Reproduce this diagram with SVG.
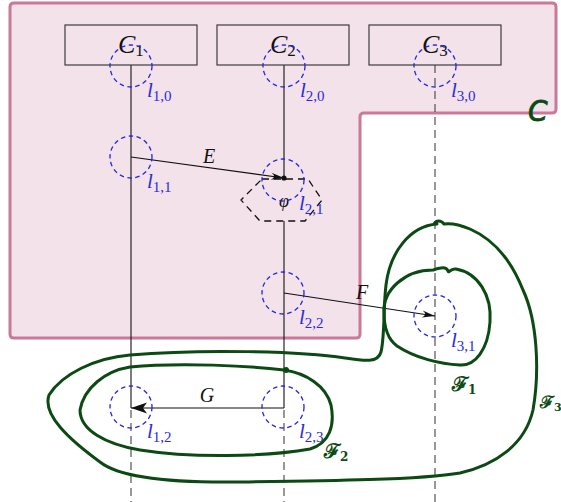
<svg xmlns="http://www.w3.org/2000/svg" width="561" height="502" viewBox="0 0 561 502">
<style>
.region{fill:#f3e2ea;stroke:#cc7898;stroke-width:3;stroke-linejoin:round}
.box{fill:none;stroke:#3c3c3c;stroke-width:1.2}
.solid{stroke:#111;stroke-width:1.1;fill:none}
.dash{stroke:#444;stroke-width:1.1;stroke-dasharray:8 5;fill:none}
.loc{fill:none;stroke:#2424e0;stroke-width:1.3;stroke-dasharray:4.5 3.5}
.math{font-family:"Liberation Serif","DejaVu Serif",serif;font-style:italic;fill:#111}
.sub{font-style:normal}
.blue{fill:#2a2ae0}
.hand{fill:none;stroke:#0b4a12;stroke-width:3;stroke-linecap:round;stroke-linejoin:round}
.htxt{font-family:"DejaVu Serif",serif;font-weight:bold;fill:#0b4a12}
</style>
<defs>
<marker id="thin" viewBox="-14 -5 16 10" markerWidth="16" markerHeight="10" refX="0" refY="0" orient="auto" markerUnits="userSpaceOnUse">
<path d="M0,0 L-13,-3.5 Q-7,0 -13,3.5 Z" fill="#111"/>
</marker>
<marker id="stealth" viewBox="-18 -7 20 14" markerWidth="20" markerHeight="14" refX="0" refY="0" orient="auto" markerUnits="userSpaceOnUse">
<path d="M0,0 L-16,-5.5 L-12,0 L-16,5.5 Z" fill="#111"/>
</marker>
</defs>

<g id="region">
<path class="region" d="M14,3 H552 Q556,3 556,7 V109 Q556,113 552,113 H364 Q360,113 360,117 V334 Q360,338 356,338 H14 Q10,338 10,334 V7 Q10,3 14,3 Z"/>
</g>

<g id="connectors">
<line class="solid" x1="131" y1="65" x2="131" y2="408"/>
<line class="dash" x1="131" y1="410" x2="131" y2="502"/>
<line class="solid" x1="284" y1="65" x2="284" y2="178"/>
<line class="solid" x1="284" y1="221" x2="284" y2="408"/>
<line class="dash" x1="284" y1="410" x2="284" y2="502"/>
<line class="dash" x1="435" y1="65" x2="435" y2="502"/>
<line id="E" class="solid" x1="131" y1="157" x2="284" y2="178" stroke-width="1.3" marker-end="url(#thin)"/>
<circle cx="284" cy="178" r="2.6" fill="#111"/>
<line id="F" class="solid" x1="284" y1="293" x2="435" y2="316" stroke-width="1.3" marker-end="url(#thin)"/>
<line id="G" class="solid" x1="284" y1="408" x2="131" y2="408" stroke-width="1.3" marker-end="url(#stealth)"/>
<text class="math" x="209" y="163" font-size="20" text-anchor="middle">E</text>
<text class="math" x="362" y="299" font-size="20" text-anchor="middle">F</text>
<text class="math" x="207" y="402" font-size="20" text-anchor="middle">G</text>
</g>

<g id="C1">
<rect class="box" x="65" y="25" width="132" height="40"/>
<text class="math" x="118" y="53" font-size="26">C<tspan class="sub" font-size="17" dy="3">1</tspan></text>
</g>
<g id="C2">
<rect class="box" x="217" y="25" width="132" height="40"/>
<text class="math" x="270" y="53" font-size="26">C<tspan class="sub" font-size="17" dy="3">2</tspan></text>
</g>
<g id="C3">
<rect class="box" x="369" y="25" width="132" height="40"/>
<text class="math" x="422" y="53" font-size="26">C<tspan class="sub" font-size="17" dy="3">3</tspan></text>
</g>

<g id="phi">
<path d="M262,179 H308 L322,200 L305,221 H260 L241,200 Z" fill="none" stroke="#111" stroke-width="1.3" stroke-dasharray="7 5"/>
<text class="math" x="284" y="207" font-size="18" text-anchor="middle">φ</text>
</g>

<g id="l10"><circle class="loc" cx="131" cy="66" r="21"/><text class="math blue" x="147" y="97" font-size="21">l<tspan class="sub" font-size="15" dy="4">1,0</tspan></text></g>
<g id="l20"><circle class="loc" cx="284" cy="66" r="21"/><text class="math blue" x="300" y="97" font-size="21">l<tspan class="sub" font-size="15" dy="4">2,0</tspan></text></g>
<g id="l30"><circle class="loc" cx="435" cy="66" r="21"/><text class="math blue" x="451" y="97" font-size="21">l<tspan class="sub" font-size="15" dy="4">3,0</tspan></text></g>
<g id="l11"><circle class="loc" cx="131" cy="157" r="21"/><text class="math blue" x="147" y="188" font-size="21">l<tspan class="sub" font-size="15" dy="4">1,1</tspan></text></g>
<g id="l21"><circle class="loc" cx="283" cy="180" r="21"/><text class="math blue" x="299" y="210" font-size="21">l<tspan class="sub" font-size="15" dy="4">2,1</tspan></text></g>
<g id="l22"><circle class="loc" cx="283" cy="293" r="21"/><text class="math blue" x="299" y="324" font-size="21">l<tspan class="sub" font-size="15" dy="4">2,2</tspan></text></g>
<g id="l31"><circle class="loc" cx="435" cy="316" r="21"/><text class="math blue" x="451" y="347" font-size="21">l<tspan class="sub" font-size="15" dy="4">3,1</tspan></text></g>
<g id="l12"><circle class="loc" cx="131" cy="407" r="21"/><text class="math blue" x="147" y="438" font-size="21">l<tspan class="sub" font-size="15" dy="4">1,2</tspan></text></g>
<g id="l23"><circle class="loc" cx="283" cy="407" r="21"/><text class="math blue" x="299" y="438" font-size="21">l<tspan class="sub" font-size="15" dy="4">2,3</tspan></text></g>

<g id="J1">
<path class="hand" d="M384,312 C383,290 405,270 433,270 C440,268 446,266 448,271 C449,274 450,268 456,269 C478,273 492,295 490,322 C488,350 475,366 460,365 C440,364 415,358 397,346 C386,338 384,325 384,312 Z"/>
<text class="htxt" x="452" y="391" font-size="20">ℱ<tspan font-size="12" dy="3">1</tspan></text>
</g>
<g id="J3">
<path class="hand" d="M437,224 C410,226 390,252 386,285 C383,310 385,335 381,352 C378,363 365,361 345,358 C300,351 200,349 130,355 C95,358 62,374 49,395 C42,415 70,440 100,462 C120,478 170,483 240,482 C320,481 420,480 460,473 C495,465 525,445 533,410 C540,370 537,320 523,290 C512,262 495,240 470,229 C458,224 450,223 444,224 C441,220 436,220 434,224"/>
<text class="htxt" x="540" y="408" font-size="17">ℱ<tspan font-size="11" dy="3">3</tspan></text>
</g>
<g id="J2">
<path class="hand" d="M284,370 C250,366 180,362 130,367 C105,371 84,388 80,410 C80,430 105,444 140,450 C190,458 265,457 310,449 C330,443 335,425 331,405 C326,386 306,373 284,370 Z"/>
<circle cx="286" cy="370" r="3" fill="#0b4a12"/>
<text class="htxt" x="324" y="458" font-size="20">ℱ<tspan font-size="12" dy="3">2</tspan></text>
</g>
<g id="Clabel">
<text x="528" y="121" font-size="28" font-family="'DejaVu Sans',sans-serif" font-style="italic" fill="#0b4a12" stroke="#0b4a12" stroke-width="0.8">C</text>
</g>
</svg>
